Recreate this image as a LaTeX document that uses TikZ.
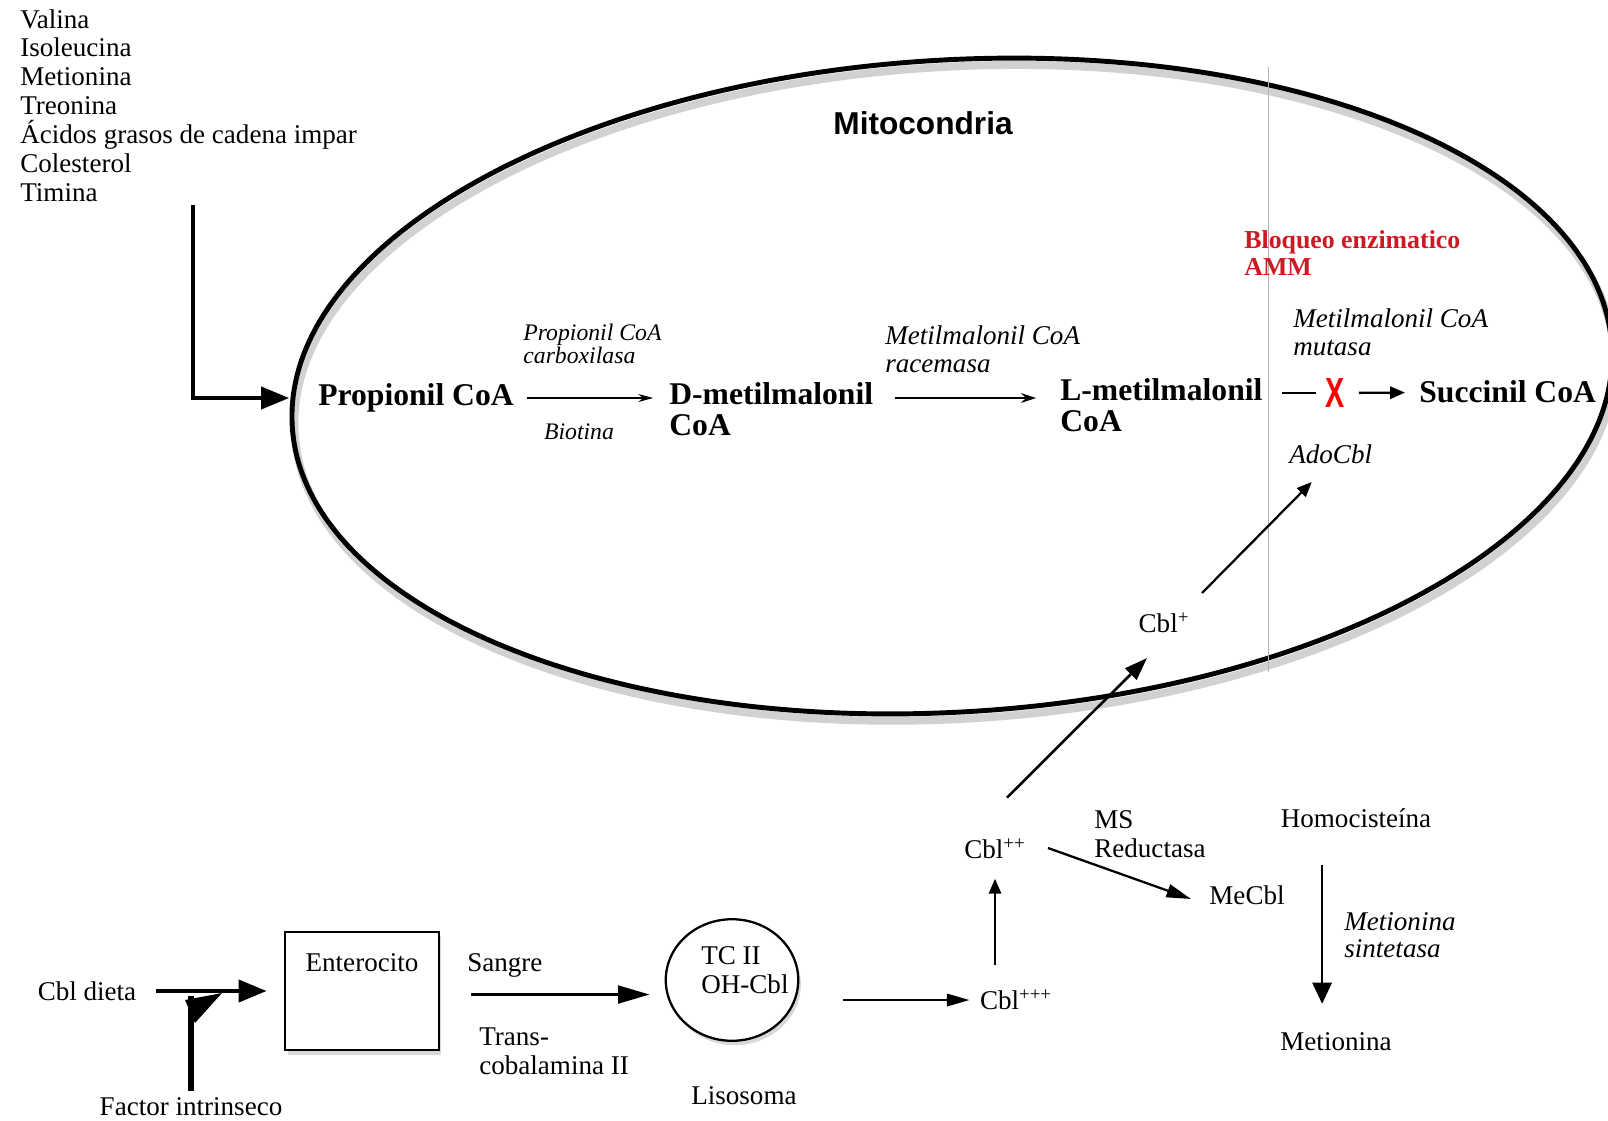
\documentclass[tikz,border=0pt]{standalone}
\usepackage{fontspec}
\setmainfont{Liberation Serif}
\newfontfamily\mitofont{Liberation Sans}
\usetikzlibrary{arrows.meta,positioning,shadows,shapes.geometric}
\definecolor{bloqueored}{RGB}{205,25,35}

\tikzset{
  txt/.style={inner sep=0pt,align=left,font=\fontsize{15.4}{16.4}\selectfont},
  enzyme/.style={txt,font=\itshape\fontsize{15.4}{15.7}\selectfont},
  enzsmall/.style={txt,font=\itshape\fontsize{13.5}{11.8}\selectfont},
  metab/.style={txt,font=\bfseries\fontsize{18}{17.5}\selectfont},
  pathway/.style={-{Stealth[length=8.5pt,width=4.5pt]},line width=0.8pt},
  pathwaybold/.style={-{Stealth[length=8.5pt,width=5.5pt]},line width=1.3pt},
  cblarrow/.style={-{Triangle[length=8.5pt,width=7pt]},line width=1.3pt},
  bigarrow/.style={-{Triangle[length=16pt,width=12.5pt]},line width=2.4pt},
  caja/.style={draw,fill=white,line width=1.2pt,minimum width=87.3pt,minimum height=67.5pt,
    drop shadow={shadow xshift=1.5pt,shadow yshift=-2.5pt,opacity=0.3}},
  lisobox/.style={draw,ellipse,fill=white,line width=1.3pt,minimum width=75.4pt,minimum height=69.2pt,
    drop shadow={shadow xshift=1.5pt,shadow yshift=-2.5pt,opacity=0.3}}
}

\begin{document}
\begin{tikzpicture}[x=0.02cm,y=-0.02cm]
  \useasboundingbox (0,0) rectangle (1608,1120);

  \draw[black!18,line width=4.5pt,rotate around={3.5:(952,386)}] (954,393) ellipse (661 and 326);
  \draw[line width=2.8pt,rotate around={3.5:(952,386)}] (952,386) ellipse (661 and 326);
  \draw[black!30,line width=0.4pt] (1268,67) -- (1268,672);

  \node[txt,anchor=north west] (fuentes) at (20,9)
    {Valina\\Isoleucina\\Metionina\\Treonina\\Ácidos grasos de cadena impar\\Colesterol\\Timina};
  \node[font=\mitofont\bfseries\fontsize{18}{18}\selectfont] (mitolbl) at (923,123) {Mitocondria};

  \node[metab,anchor=west] (propionil) at (318,398) {Propionil CoA};
  \node[metab,anchor=west] (dmetil) at (669,409) {D-metilmalonil\\CoA};
  \node[metab,anchor=west] (lmetil) at (1060,405) {L-metilmalonil\\CoA};
  \node[inner sep=0pt,text=red,font=\mitofont\bfseries\fontsize{24}{24}\selectfont] (bloqueo) at (1335,393) {\scalebox{0.68}[1]{X}};
  \node[metab,anchor=west] (succinil) at (1419,392) {Succinil CoA};

  \node[enzsmall,anchor=west] (carbox) at (523,344) {Propionil CoA\\carboxilasa};
  \node[enzsmall] (biotina) at (579,432) {Biotina};
  \node[enzyme,anchor=west] (racemasa) at (885,349) {Metilmalonil CoA\\racemasa};
  \node[txt,anchor=west,text=bloqueored,font=\bfseries\fontsize{14.7}{15.7}\selectfont] (amm) at (1244,253) {Bloqueo enzimatico\\AMM};
  \node[enzyme,anchor=west] (mutasa) at (1293,332) {Metilmalonil CoA\\mutasa};
  \node[enzyme,anchor=west] (adocbl) at (1289,454) {AdoCbl};

  \coordinate (entrada) at (193,205);
  \draw[bigarrow,shorten >=16.4pt] (entrada) |- (propionil.west);
  \draw[pathway,shorten <=7.4pt,shorten >=9pt] (propionil) -- (propionil -| dmetil.west);
  \draw[pathwaybold,shorten <=12pt,shorten >=13.6pt] (dmetil.east |- propionil) -- (lmetil.west |- propionil);
  \draw[line width=1.3pt,shorten <=10.8pt,shorten >=5pt] (lmetil.east |- bloqueo) -- (bloqueo);
  \draw[cblarrow,shorten <=8pt,shorten >=8pt] (bloqueo) -- (succinil);

  \node[txt] (cblp) at (1164,623) {Cbl\textsuperscript{+}};
  \node[txt] (cblpp) at (995,849) {Cbl\textsuperscript{++}};
  \node[txt] (cblppp) at (1016,1000) {Cbl\textsuperscript{+++}};
  \node[txt,anchor=west] (msred) at (1094,834) {MS\\Reductasa};
  \node[txt] (mecbl) at (1247,895) {MeCbl};
  \node[txt] (homocis) at (1356,818) {Homocisteína};
  \node[enzyme,anchor=west] (sintetasa) at (1344,935) {Metionina\\sintetasa};
  \node[txt] (metionina) at (1336,1042) {Metionina};

  \node[txt] (cbldieta) at (87,991) {Cbl dieta};
  \node[txt] (factor) at (191,1107) {Factor intrinseco};
  \node[caja] (entero) at (362,991) {};
  \node[txt,below=13pt of entero.north] (enterolbl) {Enterocito};
  \node[txt,anchor=west] (sangre) at (467,965) {Sangre};
  \node[txt,anchor=west] (transco) at (479,1051) {Trans-\\cobalamina II};
  \node[lisobox] (lisosoma) at (732,980) {};
  \node[txt,anchor=west] (tcii) at (701,970) {TC II\\OH-Cbl};
  \node[txt,below=25pt of lisosoma,xshift=6.8pt] (lisolbl) {Lisosoma};

  \draw[bigarrow,shorten <=11pt,shorten >=10pt] (cbldieta) -- (entero);
  \draw[line width=3.8pt,shorten <=4pt,shorten >=-3pt] (factor) -- (factor |- cbldieta.south);
  \fill (185,1000) -- (222,993) -- (195,1023) -- cycle;
  \draw[-{Triangle[length=18pt,width=10pt]},line width=1.8pt,shorten <=18pt,shorten >=8.5pt]
    ([yshift=-2pt]entero.east) -- ([yshift=-2pt]entero.east -| lisosoma.west);
  \draw[-{Triangle[length=13pt,width=7pt]},line width=1.5pt,shorten <=25pt,shorten >=5.7pt]
    (cblppp.west -| lisosoma.east) -- (cblppp.west);
  \draw[cblarrow,shorten <=14pt,shorten >=11pt] (cblpp |- cblppp.north) -- (cblpp);
  \draw[-{Triangle[length=13pt,width=9pt]},line width=1.5pt] ([shift={(12,-41)}]cblpp.north) -- ([shift={(-17,35)}]cblp.center);
  \draw[cblarrow] ([shift={(38,-30)}]cblp.center) -- ([shift={(-19,28)}]adocbl.center);
  \draw[-{Triangle[length=14pt,width=7.5pt]},line width=1.3pt] ([shift={(22,-1)}]cblpp.east) -- ([shift={(-18,4)}]mecbl.west);
  \draw[-{Triangle[length=12pt,width=11pt]},line width=1.3pt,shorten <=21pt,shorten >=16.4pt]
    ([xshift=-19.3pt]homocis.south) -- ([xshift=-19.3pt]homocis.south |- metionina.north);
\end{tikzpicture}
\end{document}
